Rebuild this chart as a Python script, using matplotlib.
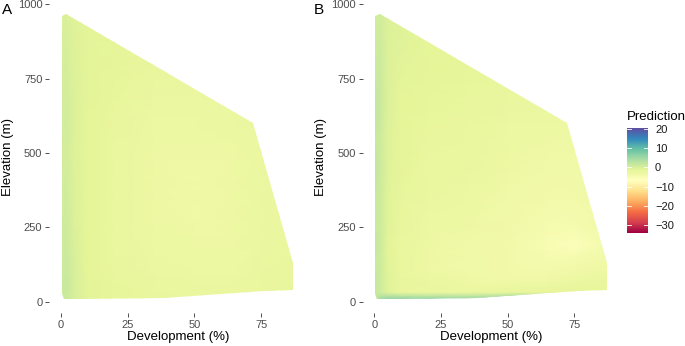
import numpy as np
import matplotlib
matplotlib.use("Agg")
import matplotlib.pyplot as plt
from matplotlib.patches import Polygon
from matplotlib.colors import Normalize

plt.rcParams['font.family'] = ['Liberation Sans', 'DejaVu Sans']

# ---- data ----
dev = [0, 2, 5, 10, 20, 35, 50, 65, 75, 88]

elev_a = [0, 15, 50, 100, 200, 300, 400, 500, 600, 700, 800, 900, 970]
pred_a = [
    [0.8, 1.0, 0.0, -1.2, -1.8, -2.1, -2.3, -2.3, -2.1, -1.8],
    [1.0, 1.2, 0.0, -1.2, -1.8, -2.1, -2.3, -2.3, -2.1, -1.8],
    [1.2, 1.3, 0.0, -1.2, -1.9, -2.3, -2.5, -2.5, -2.3, -1.9],
    [1.0, 1.2, -0.2, -1.3, -2.1, -2.6, -2.8, -2.8, -2.5, -2.1],
    [0.8, 1.0, -0.4, -1.4, -2.3, -2.9, -3.1, -3.0, -2.6, -2.3],
    [0.6, 0.8, -0.5, -1.4, -2.3, -3.1, -3.3, -3.1, -2.7, -2.3],
    [0.4, 0.6, -0.6, -1.4, -2.3, -3.1, -3.3, -3.1, -2.7, -2.3],
    [0.2, 0.4, -0.7, -1.4, -2.3, -3.0, -3.2, -3.0, -2.6, -2.3],
    [0.4, 0.6, -0.6, -1.3, -2.1, -2.8, -2.9, -2.7, -2.5, -2.3],
    [0.4, 0.4, -0.6, -1.2, -1.9, -2.5, -2.6, -2.5, -2.3, -2.3],
    [0.0, 0.1, -0.7, -1.2, -1.7, -2.1, -2.3, -2.3, -2.3, -2.3],
    [-0.3, -0.2, -0.8, -1.2, -1.5, -1.8, -2.0, -2.1, -2.1, -2.1],
    [-0.5, -0.4, -0.9, -1.2, -1.4, -1.6, -1.8, -1.9, -1.9, -1.9],
]

elev_b = [0, 10, 20, 32, 60, 100, 150, 190, 250, 350, 450, 550, 650, 750, 850, 970]
pred_b = [
    [1.5, 4.5, 6.0, 6.0, 6.0, 5.5, 5.0, 3.5, 1.0, 0.0],
    [1.5, 4.0, 5.5, 5.5, 5.5, 5.0, 5.0, 4.0, 1.5, 0.0],
    [1.5, 2.5, 3.0, 2.5, 2.0, 2.0, 3.0, 3.0, 1.0, -0.5],
    [1.5, 1.0, -1.0, -2.0, -2.5, -2.5, -2.0, -1.5, -1.5, -1.5],
    [1.8, 1.0, -1.0, -2.0, -2.5, -3.0, -3.0, -3.0, -2.5, -2.0],
    [1.5, 1.0, -1.0, -2.2, -3.0, -3.5, -4.0, -4.0, -3.5, -3.0],
    [1.5, 1.0, -1.2, -2.2, -3.0, -3.5, -4.0, -4.5, -4.5, -3.5],
    [1.8, 1.2, -1.2, -2.2, -3.0, -3.5, -4.0, -5.0, -6.0, -4.0],
    [1.5, 1.0, -1.0, -2.0, -2.8, -3.2, -3.8, -4.5, -4.5, -3.5],
    [1.5, 1.0, -1.0, -1.8, -2.5, -2.8, -3.5, -4.0, -4.0, -3.5],
    [2.0, 1.2, -0.8, -1.6, -2.2, -2.5, -3.2, -3.6, -3.6, -3.5],
    [1.5, 1.0, -0.8, -1.5, -2.0, -2.3, -2.8, -3.0, -3.0, -3.0],
    [2.0, 1.5, -0.5, -1.3, -1.8, -2.0, -2.4, -2.6, -2.6, -2.6],
    [1.5, 1.2, -0.5, -1.2, -1.6, -1.8, -2.0, -2.2, -2.2, -2.2],
    [1.0, 1.0, -0.5, -1.0, -1.4, -1.5, -1.6, -1.8, -1.8, -1.8],
    [0.5, 0.5, -0.5, -1.0, -1.2, -1.3, -1.4, -1.5, -1.5, -1.5],
]

# data domain outline (development %, elevation m)
hull_dev = [0.2, 0.3, 2.0, 72.1, 87.1, 87.1, 76.0, 60.0, 38.0, 3.0, 1.0]
hull_elev = [29, 960, 967, 602, 129, 41, 36, 25, 12, 8, 8]

pred_limits = (-34.3, 20.6)
cbar_ticks = [-30, -20, -10, 0, 10, 20]
x_ticks = [0, 25, 50, 75]
y_ticks = [0, 250, 500, 750, 1000]
panel_labels = ["A", "B"]

# ---- figure ----
W, H = 685, 346
fig = plt.figure(figsize=(W / 100, H / 100), dpi=100)
cmap = plt.get_cmap('Spectral')
norm = Normalize(*pred_limits)

def px_axes(x0, x1, y0, y1):
    return fig.add_axes([x0 / W, 1 - y1 / H, (x1 - x0) / W, (y1 - y0) / H])

panels = [(49.3, 306.4, elev_a, pred_a), (362.6, 619.7, elev_b, pred_b)]
for i, (x0, x1, el, pr) in enumerate(panels):
    ax = px_axes(x0, x1, 0, 313)
    X, Y = np.meshgrid(dev, el)
    mesh = ax.pcolormesh(X, Y, np.array(pr), cmap=cmap, norm=norm,
                         shading='gouraud', rasterized=True)
    poly = Polygon(np.column_stack([hull_dev, hull_elev]), closed=True,
                   facecolor='none', edgecolor='none', transform=ax.transData)
    ax.add_patch(poly)
    mesh.set_clip_path(poly)
    ax.set_xlim(-4.4, 92.0)
    ax.set_ylim(-38.0, 1014.5)
    for s in ax.spines.values():
        s.set_visible(False)
    ax.set_xticks(x_ticks)
    ax.set_yticks(y_ticks)
    ax.tick_params(length=3, width=0.6, color='#333333', labelsize=8,
                   labelcolor='#4D4D4D', pad=2)
    ax.set_xlabel('Development (%)', fontsize=9.5, labelpad=1)
    ax.set_ylabel('Elevation (m)', fontsize=9.5, labelpad=3)
    ax.set_facecolor('white')
    fig.text((2 if i == 0 else 314) / W, 1 - 3 / H, panel_labels[i],
             fontsize=11, va='top', ha='left')

# colorbar
cax = px_axes(627, 648, 128, 233)
sm = plt.cm.ScalarMappable(norm=norm, cmap=cmap)
cb = fig.colorbar(sm, cax=cax, ticks=cbar_ticks)
cb.outline.set_visible(False)
cax.tick_params(length=0, labelsize=8, labelcolor='#1A1A1A', pad=5)
for t in cbar_ticks:
    cax.axhline(t, xmin=0, xmax=0.2, color='white', lw=0.6)
    cax.axhline(t, xmin=0.8, xmax=1.0, color='white', lw=0.6)
fig.text(627 / W, 1 - 117 / H, 'Prediction', fontsize=9.5, va='center', ha='left')

fig.savefig('out.png', dpi=100)
